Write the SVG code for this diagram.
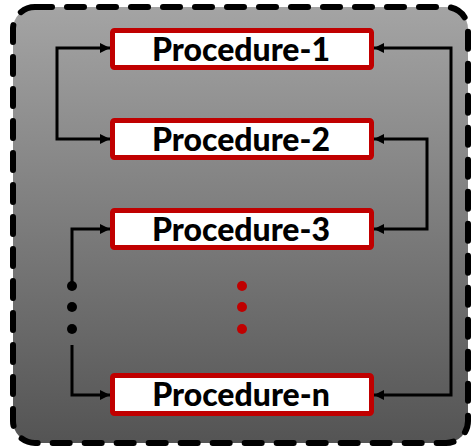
<svg xmlns="http://www.w3.org/2000/svg" width="472" height="446" viewBox="0 0 472 446">
  <defs>
    <linearGradient id="panelFill" x1="0" y1="0" x2="0" y2="1">
      <stop offset="0" stop-color="#a4a4a4"/>
      <stop offset="1" stop-color="#545454"/>
    </linearGradient>
    <marker id="arrow" viewBox="0 0 10 10" refX="10" refY="5" markerWidth="10" markerHeight="10" markerUnits="userSpaceOnUse" orient="auto-start-reverse">
      <path d="M0,0 L10,5 L0,10 Z" fill="#000"/>
    </marker>
    <style>
      .box { fill: #ffffff; stroke: #c00000; stroke-width: 5; }
      .label { font-family: "Lato", "Liberation Sans", sans-serif; font-weight: 900; font-size: 32px; fill: #000; text-anchor: middle; }
      .link { fill: none; stroke: #000; stroke-width: 3; }
      .dot { fill: #000; }
      .reddot { fill: #c00000; }
    </style>
  </defs>

  <!-- outer dashed panel -->
  <rect x="13" y="7" width="455" height="436" rx="22" fill="url(#panelFill)" stroke="#000" stroke-width="6" stroke-dasharray="17 15" stroke-linecap="round"/>

  <!-- connectors -->
  <g id="connectors">
    <path class="link" d="M110,48 H57 V139 H110" marker-end="url(#arrow)" marker-start="url(#arrow)"/>
    <path class="link" d="M374,48 H451 V395 H374" marker-end="url(#arrow)" marker-start="url(#arrow)"/>
    <path class="link" d="M374,139 H427 V229 H374" marker-end="url(#arrow)" marker-start="url(#arrow)"/>
    <path class="link" d="M72,286 V229 H110" marker-end="url(#arrow)"/>
    <path class="link" d="M72,345 V395 H110" marker-end="url(#arrow)"/>
    <circle class="dot" cx="72" cy="286" r="5"/>
    <circle class="dot" cx="72" cy="307" r="5"/>
    <circle class="dot" cx="72" cy="329" r="5"/>
  </g>

  <g id="proc1">
    <rect class="box" x="112.5" y="30.5" width="259" height="37" rx="2"/>
    <text class="label" x="241" y="61">Procedure-1</text>
  </g>
  <g id="proc2">
    <rect class="box" x="112.5" y="120.5" width="259" height="37" rx="2"/>
    <text class="label" x="241" y="151">Procedure-2</text>
  </g>
  <g id="proc3">
    <rect class="box" x="112.5" y="210.5" width="259" height="37" rx="2"/>
    <text class="label" x="241" y="241">Procedure-3</text>
  </g>
  <g id="ellipsis">
    <circle class="reddot" cx="242" cy="286" r="5"/>
    <circle class="reddot" cx="242" cy="307" r="5"/>
    <circle class="reddot" cx="242" cy="329" r="5"/>
  </g>
  <g id="procN">
    <rect class="box" x="112.5" y="375.5" width="259" height="38" rx="2"/>
    <text class="label" x="241" y="406">Procedure-n</text>
  </g>
</svg>
